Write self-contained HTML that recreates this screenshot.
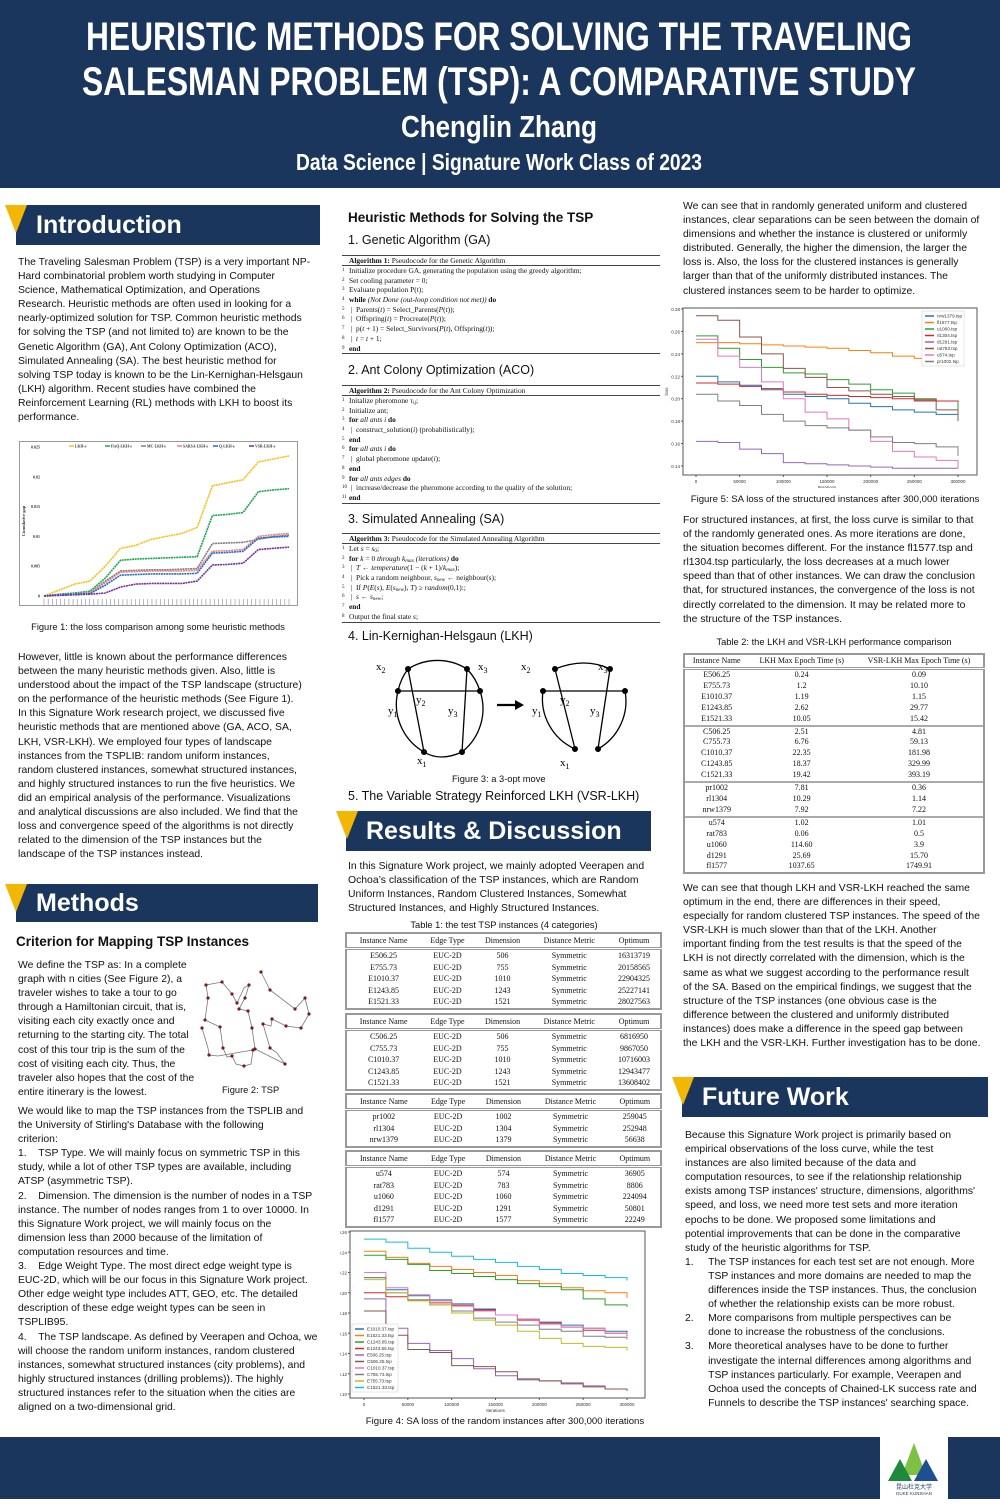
<!DOCTYPE html>
<html><head><meta charset="utf-8">
<style>
*{margin:0;padding:0;box-sizing:border-box}
body{width:1000px;height:1499px;position:relative;background:#fff;font-family:"Liberation Sans",sans-serif;color:#111;overflow:hidden}
.abs{position:absolute}
.txt{font-size:10.4px;line-height:14.1px;white-space:nowrap}
.bar{position:absolute;background:#1b365d;color:#fff;font-weight:bold;font-size:25px;padding-left:20px;line-height:40px}
.tri{position:absolute;width:0;height:0;border-left:11px solid transparent;border-right:11px solid transparent;border-top:28px solid #f2b705}
.h2{font-weight:bold;font-size:13.5px;white-space:nowrap}
.h3{font-size:12.5px;white-space:nowrap}
.cap{font-size:9.3px;white-space:nowrap;text-align:center}
.alg{position:absolute;left:342px;width:318px;font-family:"Liberation Serif",serif;font-size:7.4px;line-height:9.7px;border-top:1.5px solid #444;border-bottom:1.5px solid #444;white-space:nowrap}
.alg sub{line-height:0;font-size:70%;vertical-align:-1px}
.alg .t{border-bottom:1px solid #444;padding-left:7px;height:10px}
.alg div.l{padding-left:7px;position:relative;height:9.7px}
.alg div.l span.n{position:absolute;left:0;font-size:5px}
table{border-collapse:collapse;font-family:"Liberation Serif",serif;font-size:8px;position:absolute}
td,th{text-align:center;font-weight:normal;padding:0 3px;line-height:11.5px;white-space:nowrap}
table.t1{border:2px double #999}
table.t1 thead th{border-bottom:3px double #999;line-height:13px}
table.t2 td{line-height:10.9px}
table.t2 thead th{line-height:12px}
</style></head><body>

<svg class="abs" style="left:0;top:0" width="1000" height="188">
<rect width="1000" height="188" fill="#1b365d"/>
<g font-family="Liberation Sans Narrow, Liberation Sans, sans-serif" font-weight="bold" fill="#fff" text-anchor="middle">
<text x="499" y="50" font-size="40" textLength="826" lengthAdjust="spacingAndGlyphs">HEURISTIC METHODS FOR SOLVING THE TRAVELING</text>
<text x="499" y="95" font-size="40" textLength="834" lengthAdjust="spacingAndGlyphs">SALESMAN PROBLEM (TSP): A COMPARATIVE STUDY</text>
<text x="499" y="137" font-size="31" textLength="196" lengthAdjust="spacingAndGlyphs">Chenglin Zhang</text>
<text x="499" y="170" font-size="23" textLength="406" lengthAdjust="spacingAndGlyphs">Data Science | Signature Work Class of 2023</text>
</g></svg>

<!-- Introduction -->
<div class="bar" style="left:16px;top:205px;width:304px">Introduction</div>
<div class="tri" style="left:5px;top:205px"></div>
<div class="abs txt" style="left:18px;top:256px">The Traveling Salesman Problem (TSP) is a very important NP-<br>Hard combinatorial problem worth studying in Computer<br>Science, Mathematical Optimization, and Operations<br>Research. Heuristic methods are often used in looking for a<br>nearly-optimized solution for TSP. Common heuristic methods<br>for solving the TSP (and not limited to) are known to be the<br>Genetic Algorithm (GA), Ant Colony Optimization (ACO),<br>Simulated Annealing (SA). The best heuristic method for<br>solving TSP today is known to be the Lin-Kernighan-Helsgaun<br>(LKH) algorithm. Recent studies have combined the<br>Reinforcement Learning (RL) methods with LKH to boost its<br>performance.</div>

<svg id="fig1" class="abs" style="left:19px;top:441px" width="280" height="166"></svg>
<div class="abs cap" style="left:18px;top:622px;width:280px">Figure 1: the loss comparison among some heuristic methods</div>

<div class="abs txt" style="left:18px;top:651px">However, little is known about the performance differences<br>between the many heuristic methods given. Also, little is<br>understood about the impact of the TSP landscape (structure)<br>on the performance of the heuristic methods (See Figure 1).<br>In this Signature Work research project, we discussed five<br>heuristic methods that are mentioned above (GA, ACO, SA,<br>LKH, VSR-LKH). We employed four types of landscape<br>instances from the TSPLIB: random uniform instances,<br>random clustered instances, somewhat structured instances,<br>and highly structured instances to run the five heuristics. We<br>did an empirical analysis of the performance. Visualizations<br>and analytical discussions are also included. We find that the<br>loss and convergence speed of the algorithms is not directly<br>related to the dimension of the TSP instances but the<br>landscape of the TSP instances instead.</div>

<!-- Methods -->
<div class="bar" style="left:16px;top:884px;width:302px;line-height:38px">Methods</div>
<div class="tri" style="left:5px;top:884px"></div>
<div class="abs h2" style="left:16px;top:934px">Criterion for Mapping TSP Instances</div>
<div class="abs txt" style="left:18px;top:959px">We define the TSP as:  In a complete<br>graph with n cities (See Figure 2), a<br>traveler wishes to take a tour to go<br>through a Hamiltonian circuit, that is,<br>visiting each city exactly once and<br>returning to the starting city. The total<br>cost of this tour trip is the sum of the<br>cost of visiting each city. Thus, the<br>traveler also hopes that the cost of the<br>entire itinerary is the lowest.</div>
<svg class="abs" style="left:200px;top:968px" width="130" height="105">
<polyline fill="none" stroke="#777" stroke-width="0.8" points="61,4 70,22 95,41 105,30 109,46 101,60 86,58 72,51 71,58 63,56 70,80 77,85 85,96 75,91 55,81 52,60 48,43 39,41 45,30 49,17 44,20 37,35 32,26 22,14 6,17 8,30 5,52 20,59 23,80 27,89 32,88 36,96 44,98 51,96 53,82 18,88 9,87 8,80 5,70 2,60"/>
<g fill="#7a1a22"><circle cx="61" cy="4" r="1.6"/><circle cx="70" cy="22" r="1.6"/><circle cx="95" cy="41" r="1.6"/><circle cx="105" cy="30" r="1.6"/><circle cx="109" cy="46" r="1.6"/><circle cx="101" cy="60" r="1.6"/><circle cx="86" cy="58" r="1.6"/><circle cx="72" cy="51" r="1.6"/><circle cx="63" cy="56" r="1.6"/><circle cx="70" cy="80" r="1.6"/><circle cx="85" cy="96" r="1.6"/><circle cx="55" cy="81" r="1.6"/><circle cx="52" cy="60" r="1.6"/><circle cx="48" cy="43" r="1.6"/><circle cx="39" cy="41" r="1.6"/><circle cx="45" cy="30" r="1.6"/><circle cx="49" cy="17" r="1.6"/><circle cx="37" cy="35" r="1.6"/><circle cx="32" cy="26" r="1.6"/><circle cx="22" cy="14" r="1.6"/><circle cx="6" cy="17" r="1.6"/><circle cx="8" cy="30" r="1.6"/><circle cx="5" cy="52" r="1.6"/><circle cx="20" cy="59" r="1.6"/><circle cx="23" cy="80" r="1.6"/><circle cx="32" cy="88" r="1.6"/><circle cx="44" cy="98" r="1.6"/><circle cx="53" cy="82" r="1.6"/><circle cx="9" cy="87" r="1.6"/><circle cx="2" cy="60" r="1.6"/></g></svg>
<div class="abs cap" style="left:222px;top:1085px">Figure 2: TSP</div>
<div class="abs txt" style="left:18px;top:1105px">We would like to map the TSP instances from the TSPLIB and<br>the University of Stirling's Database with the following<br>criterion:<br>1.&nbsp;&nbsp;&nbsp;&nbsp;TSP Type. We will mainly focus on symmetric TSP in this<br>study, while a lot of other TSP types are available, including<br>ATSP (asymmetric TSP).<br>2.&nbsp;&nbsp;&nbsp;&nbsp;Dimension. The dimension is the number of nodes in a TSP<br>instance. The number of nodes ranges from 1 to over 10000. In<br>this Signature Work project, we will mainly focus on the<br>dimension less than 2000 because of the limitation of<br>computation resources and time.<br>3.&nbsp;&nbsp;&nbsp;&nbsp;Edge Weight Type. The most direct edge weight type is<br>EUC-2D, which will be our focus in this Signature Work project.<br>Other edge weight type includes ATT, GEO, etc. The detailed<br>description of these edge weight types can be seen in<br>TSPLIB95.<br>4.&nbsp;&nbsp;&nbsp;&nbsp;The TSP landscape. As defined by Veerapen and Ochoa, we<br>will choose the random uniform instances, random clustered<br>instances, somewhat structured instances (city problems), and<br>highly structured instances (drilling problems)). The highly<br>structured instances refer to the situation when the cities are<br>aligned on a two-dimensional grid.</div>

<!-- Middle column -->
<div class="abs h2" style="left:348px;top:210px">Heuristic Methods for Solving the TSP</div>
<div class="abs h3" style="left:348px;top:233px">1. Genetic Algorithm (GA)</div>
<div class="alg" style="top:255px">
<div class="t"><b>Algorithm 1:</b> Pseudocode for the Genetic Algorithm</div>
<div class="l"><span class="n">1</span>Initialize procedure GA, generating the population using the greedy algorithm;</div>
<div class="l"><span class="n">2</span>Set cooling parameter = 0;</div>
<div class="l"><span class="n">3</span>Evaluate population P(t);</div>
<div class="l"><span class="n">4</span><b>while</b> <i>(Not Done (out-loop condition not met))</i> <b>do</b></div>
<div class="l"><span class="n">5</span>&nbsp;|&nbsp;&nbsp;Parents(<i>t</i>) = Select_Parents(<i>P</i>(<i>t</i>));</div>
<div class="l"><span class="n">6</span>&nbsp;|&nbsp;&nbsp;Offspring(<i>t</i>) = Procreate(<i>P</i>(<i>t</i>));</div>
<div class="l"><span class="n">7</span>&nbsp;|&nbsp;&nbsp;p(<i>t</i> + 1) = Select_Survivors(<i>P</i>(<i>t</i>), Offspring(<i>t</i>));</div>
<div class="l"><span class="n">8</span>&nbsp;|&nbsp;&nbsp;<i>t</i> = <i>t</i> + 1;</div>
<div class="l"><span class="n">9</span><b>end</b></div></div>
<div class="abs h3" style="left:348px;top:363px">2. Ant Colony Optimization (ACO)</div>
<div class="alg" style="top:385px">
<div class="t"><b>Algorithm 2:</b> Pseudocode for the Ant Colony Optimization</div>
<div class="l"><span class="n">1</span>Initalize pheromone τ<sub>ij</sub>;</div>
<div class="l"><span class="n">2</span>Initialize ant;</div>
<div class="l"><span class="n">3</span><b>for</b> <i>all ants i</i> <b>do</b></div>
<div class="l"><span class="n">4</span>&nbsp;|&nbsp;&nbsp;construct_solution(<i>i</i>) (probabilistically);</div>
<div class="l"><span class="n">5</span><b>end</b></div>
<div class="l"><span class="n">6</span><b>for</b> <i>all ants i</i> <b>do</b></div>
<div class="l"><span class="n">7</span>&nbsp;|&nbsp;&nbsp;global pheromone update(<i>i</i>);</div>
<div class="l"><span class="n">8</span><b>end</b></div>
<div class="l"><span class="n">9</span><b>for</b> <i>all ants edges</i> <b>do</b></div>
<div class="l"><span class="n">10</span>&nbsp;|&nbsp;&nbsp;increase/decrease the pheromone according to the quality of the solution;</div>
<div class="l"><span class="n">11</span><b>end</b></div></div>
<div class="abs h3" style="left:348px;top:512px">3. Simulated Annealing (SA)</div>
<div class="alg" style="top:533px">
<div class="t"><b>Algorithm 3:</b> Pseudocode for the Simulated Annealing Algorithm</div>
<div class="l"><span class="n">1</span>Let <i>s</i> = <i>s</i><sub>0</sub>;</div>
<div class="l"><span class="n">2</span><b>for</b> <i>k</i> = 0 <i>through k<sub>max</sub> (iterations)</i> <b>do</b></div>
<div class="l"><span class="n">3</span>&nbsp;|&nbsp;&nbsp;<i>T</i> ← <i>temperature</i>(1 − (<i>k</i> + 1)/<i>k<sub>max</sub></i>);</div>
<div class="l"><span class="n">4</span>&nbsp;|&nbsp;&nbsp;Pick a random neighbour, <i>s<sub>new</sub></i> ← neighbour(s);</div>
<div class="l"><span class="n">5</span>&nbsp;|&nbsp;&nbsp;If <i>P</i>(<i>E</i>(<i>s</i>), <i>E</i>(<i>s<sub>new</sub></i>), <i>T</i>) ≥ <i>random</i>(0,1):;</div>
<div class="l"><span class="n">6</span>&nbsp;|&nbsp;&nbsp;<i>s</i> ← <i>s<sub>new</sub></i>;</div>
<div class="l"><span class="n">7</span><b>end</b></div>
<div class="l"><span class="n">8</span>Output the final state <i>s</i>;</div></div>
<div class="abs h3" style="left:348px;top:629px">4. Lin-Kernighan-Helsgaun (LKH)</div>
<svg class="abs" style="left:360px;top:652px" width="290" height="118">
<g fill="none" stroke="#000" stroke-width="1.3" font-family="Liberation Serif,serif">
<path d="M38,39 A55,55 0 0 1 48,17 A55,55 0 0 1 107,17 A55,55 0 0 1 120,39 A55,55 0 0 1 102,100 Q80,110 64,100 A55,55 0 0 1 38,39"/>
<line x1="38" y1="39" x2="120" y2="39"/><line x1="48" y1="17" x2="64" y2="100"/><line x1="107" y1="17" x2="102" y2="100"/>
<path d="M183,39 A55,55 0 0 0 215,97"/><path d="M195,17 Q225,5 250,17"/><path d="M265,39 A55,55 0 0 1 238,97"/>
<line x1="183" y1="39" x2="265" y2="39"/><line x1="195" y1="17" x2="215" y2="97"/><line x1="250" y1="17" x2="238" y2="97"/>
<line x1="137" y1="53" x2="157" y2="53" stroke-width="2.2"/></g>
<polygon points="155,48 164,53 155,58" fill="#000"/>
<g fill="#000"><circle cx="38" cy="39" r="3"/><circle cx="120" cy="39" r="3"/><circle cx="48" cy="17" r="3"/><circle cx="107" cy="17" r="3"/><circle cx="64" cy="100" r="3"/><circle cx="102" cy="100" r="3"/><circle cx="183" cy="39" r="3"/><circle cx="265" cy="39" r="3"/><circle cx="195" cy="17" r="3"/><circle cx="250" cy="17" r="3"/><circle cx="215" cy="97" r="3"/><circle cx="238" cy="97" r="3"/></g>
<g font-family="Liberation Serif,serif" font-size="11" fill="#000"><text x="16" y="18">x<tspan font-size="8" dy="3">2</tspan></text><text x="118" y="18">x<tspan font-size="8" dy="3">3</tspan></text><text x="56" y="51">y<tspan font-size="8" dy="3">2</tspan></text><text x="28" y="62">y<tspan font-size="8" dy="3">1</tspan></text><text x="88" y="62">y<tspan font-size="8" dy="3">3</tspan></text><text x="57" y="112">x<tspan font-size="8" dy="3">1</tspan></text>
<text x="161" y="18">x<tspan font-size="8" dy="3">2</tspan></text><text x="238" y="18">x<tspan font-size="8" dy="3">3</tspan></text><text x="200" y="51">y<tspan font-size="8" dy="3">2</tspan></text><text x="172" y="62">y<tspan font-size="8" dy="3">1</tspan></text><text x="230" y="62">y<tspan font-size="8" dy="3">3</tspan></text><text x="200" y="114">x<tspan font-size="8" dy="3">1</tspan></text></g></svg>
<div class="abs cap" style="left:452px;top:774px">Figure 3: a 3-opt move</div>
<div class="abs h3" style="left:348px;top:789px">5. The Variable Strategy Reinforced LKH (VSR-LKH)</div>

<div class="bar" style="left:346px;top:811px;width:305px;font-size:25px;line-height:40px">Results &amp; Discussion</div>
<div class="tri" style="left:336px;top:811px"></div>
<div class="abs txt" style="left:348px;top:860px">In this Signature Work project, we mainly adopted Veerapen and<br>Ochoa’s classification of the TSP instances, which are Random<br>Uniform Instances, Random Clustered Instances, Somewhat<br>Structured Instances, and Highly Structured Instances.</div>
<div class="abs cap" style="left:345px;top:920px;width:318px">Table 1: the test TSP instances (4 categories)</div>

<svg id="fig4" class="abs" style="left:340px;top:1225px" width="330" height="190"></svg>
<div class="abs cap" style="left:340px;top:1416px;width:330px;font-size:9.6px">Figure 4: SA loss of the random instances after 300,000 iterations</div>

<!-- Right column -->
<div class="abs txt" style="left:683px;top:200px">We can see that in randomly generated uniform and clustered<br>instances, clear separations can be seen between the domain of<br>dimensions and whether the instance is clustered or uniformly<br>distributed. Generally, the higher the dimension, the larger the<br>loss is. Also, the loss for the clustered instances is generally<br>larger than that of the uniformly distributed instances. The<br>clustered instances seem to be harder to optimize.</div>
<svg id="fig5" class="abs" style="left:660px;top:303px" width="330" height="185"></svg>
<div class="abs cap" style="left:670px;top:494px;width:330px;font-size:9.6px">Figure 5: SA loss of the structured instances after 300,000 iterations</div>
<div class="abs txt" style="left:683px;top:514px">For structured instances, at first, the loss curve is similar to that<br>of the randomly generated ones. As more iterations are done,<br>the situation becomes different. For the instance fl1577.tsp and<br>rl1304.tsp particularly, the loss decreases at a much lower<br>speed than that of other instances. We can draw the conclusion<br>that, for structured instances, the convergence of the loss is not<br>directly correlated to the dimension. It may be related more to<br>the structure of the TSP instances.</div>
<div class="abs cap" style="left:683px;top:637px;width:302px">Table 2: the LKH and VSR-LKH performance comparison</div>
<div class="abs txt" style="left:683px;top:882px">We can see that though LKH and VSR-LKH reached the same<br>optimum in the end, there are differences in their speed,<br>especially for random clustered TSP instances. The speed of the<br>VSR-LKH is much slower than that of the LKH. Another<br>important finding from the test results is that the speed of the<br>LKH is not directly correlated with the dimension, which is the<br>same as what we suggest according to the performance result<br>of the SA. Based on the empirical findings, we suggest that the<br>structure of the TSP instances (one obvious case is the<br>difference between the clustered and uniformly distributed<br>instances) does make a difference in the speed gap between<br>the LKH and the VSR-LKH. Further investigation has to be done.</div>

<div class="bar" style="left:682px;top:1077px;width:306px">Future Work</div>
<div class="tri" style="left:672px;top:1077px"></div>
<div class="abs txt" style="left:685px;top:1129px">Because this Signature Work project is primarily based on<br>empirical observations of the loss curve, while the test<br>instances are also limited because of the data and<br>computation resources, to see if the relationship relationship<br>exists among TSP instances' structure, dimensions, algorithms'<br>speed, and loss, we need more test sets and more iteration<br>epochs to be done. We proposed some limitations and<br>potential improvements that can be done in the comparative<br>study of the heuristic algorithms for TSP.<br>1.&nbsp;&nbsp;&nbsp;&nbsp;&nbsp;The TSP instances for each test set are not enough. More<br>&nbsp;&nbsp;&nbsp;&nbsp;&nbsp;&nbsp;&nbsp;&nbsp;TSP instances and more domains are needed to map the<br>&nbsp;&nbsp;&nbsp;&nbsp;&nbsp;&nbsp;&nbsp;&nbsp;differences inside the TSP instances. Thus, the conclusion<br>&nbsp;&nbsp;&nbsp;&nbsp;&nbsp;&nbsp;&nbsp;&nbsp;of whether the relationship exists can be more robust.<br>2.&nbsp;&nbsp;&nbsp;&nbsp;&nbsp;More comparisons from multiple perspectives can be<br>&nbsp;&nbsp;&nbsp;&nbsp;&nbsp;&nbsp;&nbsp;&nbsp;done to increase the robustness of the conclusions.<br>3.&nbsp;&nbsp;&nbsp;&nbsp;&nbsp;More theoretical analyses have to be done to further<br>&nbsp;&nbsp;&nbsp;&nbsp;&nbsp;&nbsp;&nbsp;&nbsp;investigate the internal differences among algorithms and<br>&nbsp;&nbsp;&nbsp;&nbsp;&nbsp;&nbsp;&nbsp;&nbsp;TSP instances particularly. For example, Veerapen and<br>&nbsp;&nbsp;&nbsp;&nbsp;&nbsp;&nbsp;&nbsp;&nbsp;Ochoa used the concepts of Chained-LK success rate and<br>&nbsp;&nbsp;&nbsp;&nbsp;&nbsp;&nbsp;&nbsp;&nbsp;Funnels to describe the TSP instances' searching space.</div>

<!-- Footer -->
<div class="abs" style="left:0;top:1437px;width:1000px;height:62px;background:#1b365d"></div>
<div class="abs" style="left:880px;top:1437px;width:68px;height:62px;background:#fff">
<svg width="68" height="62"><polygon points="34,6 22,38 46,38" fill="#7cc142"/><polygon points="20,22 8,44 32,44" fill="#1f8a3c"/><polygon points="46,22 34,44 58,44" fill="#1d4f91"/><text x="34" y="52" font-size="6" text-anchor="middle" fill="#1b365d" font-family="Noto Sans CJK SC,sans-serif">昆山杜克大学</text><text x="34" y="58" font-size="4.5" text-anchor="middle" fill="#1b365d" font-family="Liberation Sans,sans-serif">DUKE KUNSHAN</text></svg></div>

<script>
// ---------- Table data ----------
const t1Groups = [
 [["E506.25","506","16313719"],["E755.73","755","20158565"],["E1010.37","1010","22904325"],["E1243.85","1243","25227141"],["E1521.33","1521","28027563"]],
 [["C506.25","506","6816950"],["C755.73","755","9867050"],["C1010.37","1010","10716003"],["C1243.85","1243","12943477"],["C1521.33","1521","13608402"]],
 [["pr1002","1002","259045"],["rl1304","1304","252948"],["nrw1379","1379","56638"]],
 [["u574","574","36905"],["rat783","783","8806"],["u1060","1060","224094"],["d1291","1291","50801"],["fl1577","1577","22249"]]
];
const t1Tops=[932,1013,1093,1150];
t1Groups.forEach(function(g,gi){
  const tb=document.createElement('table');
  
  
  tb.className='t1';
  tb.style.left='345px';tb.style.top=t1Tops[gi]+'px';tb.style.width='317px';
  let h='<thead><tr><th>Instance Name</th><th>Edge Type</th><th>Dimension</th><th>Distance Metric</th><th>Optimum</th></tr></thead><tbody>';
  g.forEach(function(r){h+='<tr><td>'+r[0]+'</td><td>EUC-2D</td><td>'+r[1]+'</td><td>Symmetric</td><td>'+r[2]+'</td></tr>';});
  tb.innerHTML=h+'</tbody>';
  document.body.appendChild(tb);
});
const t2Names=["E506.25","E755.73","E1010.37","E1243.85","E1521.33","C506.25","C755.73","C1010.37","C1243.85","C1521.33","pr1002","rl1304","nrw1379","u574","rat783","u1060","d1291","fl1577"];
const t2Lkh=["0.24","1.2","1.19","2.62","10.05","2.51","6.76","22.35","18.37","19.42","7.81","10.29","7.92","1.02","0.06","114.60","25.69","1037.65"];
const t2Vsr=["0.09","10.10","1.15","29.77","15.42","4.81","59.13","181.98","329.99","393.19","0.36","1.14","7.22","1.01","0.5","3.9","15.70","1749.91"];
(function(){
  const tb=document.createElement('table');
  
  
  tb.className='t1 t2';
  tb.style.left='683px';tb.style.top='653px';tb.style.width='302px';
  let h='<thead><tr><th>Instance Name</th><th>LKH Max Epoch Time (s)</th><th>VSR-LKH Max Epoch Time (s)</th></tr></thead><tbody>';
  t2Names.forEach(function(n,i){
    const sep=(i===5||i===10||i===13)?' style="border-top:2px solid #aaa"':'';
    h+='<tr'+sep+'><td>'+n+'</td><td>'+t2Lkh[i]+'</td><td>'+t2Vsr[i]+'</td></tr>';});
  tb.innerHTML=h+'</tbody>';
  document.body.appendChild(tb);
})();

// ---------- Figure 5 data ----------
const fig5Iters=[0,25000,50000,75000,100000,125000,150000,175000,200000,225000,250000,275000,300000];
const fig5Names=["nrw1379.tsp","fl1577.tsp","u1060.tsp","rl1304.tsp","d1291.tsp","rat783.tsp","u574.tsp","pr1002.tsp"];
const fig5_nrw1379=[0.220,0.215,0.212,0.208,0.204,0.202,0.200,0.196,0.193,0.190,0.188,0.186,0.182];
const fig5_fl1577=[0.250,0.250,0.249,0.248,0.247,0.246,0.245,0.243,0.241,0.238,0.236,0.233,0.232];
const fig5_u1060=[0.256,0.245,0.235,0.228,0.223,0.222,0.217,0.213,0.208,0.205,0.200,0.198,0.188];
const fig5_rl1304=[0.214,0.213,0.211,0.209,0.206,0.204,0.203,0.202,0.201,0.200,0.199,0.198,0.197];
const fig5_d1291=[0.162,0.161,0.155,0.151,0.143,0.142,0.141,0.140,0.139,0.138,0.138,0.138,0.138];
const fig5_rat783=[0.274,0.270,0.255,0.240,0.227,0.219,0.210,0.207,0.204,0.202,0.198,0.190,0.180];
const fig5_u574=[0.253,0.238,0.228,0.215,0.200,0.188,0.182,0.172,0.162,0.153,0.148,0.145,0.138];
const fig5_pr1002=[0.204,0.198,0.194,0.186,0.180,0.176,0.174,0.172,0.166,0.161,0.160,0.157,0.149];
const fig5YTicks=[0.14,0.16,0.18,0.20,0.22,0.24,0.26,0.28];
const xTicks=[0,50000,100000,150000,200000,250000,300000];

// ---------- Figure 4 data ----------
const fig4Names=["E1010.37.tsp","E1521.33.tsp","C1243.85.tsp","E1243.85.tsp","E506.25.tsp","C506.25.tsp","C1010.37.tsp","C755.73.tsp","E755.73.tsp","C1521.33.tsp"];
const fig4_E1010=[0.215,0.203,0.197,0.193,0.189,0.184,0.178,0.174,0.171,0.168,0.165,0.162,0.160];
const fig4_E1521=[0.241,0.235,0.229,0.226,0.223,0.220,0.217,0.212,0.209,0.205,0.202,0.200,0.195];
const fig4_C1243=[0.237,0.233,0.228,0.222,0.219,0.216,0.213,0.209,0.206,0.203,0.194,0.188,0.186];
const fig4_E1243=[0.200,0.196,0.193,0.190,0.187,0.183,0.178,0.173,0.170,0.166,0.163,0.160,0.157];
const fig4_E506=[0.194,0.165,0.150,0.143,0.135,0.125,0.118,0.114,0.113,0.111,0.108,0.105,0.103];
const fig4_C506=[0.182,0.158,0.144,0.141,0.128,0.127,0.122,0.115,0.113,0.110,0.107,0.105,0.103];
const fig4_C1010=[0.220,0.205,0.198,0.192,0.188,0.182,0.178,0.174,0.169,0.166,0.165,0.160,0.158];
const fig4_C755=[0.215,0.200,0.193,0.188,0.182,0.175,0.171,0.168,0.164,0.162,0.157,0.156,0.154];
const fig4_E755=[0.213,0.200,0.192,0.188,0.180,0.173,0.168,0.162,0.155,0.150,0.147,0.146,0.143];
const fig4_C1521=[0.253,0.250,0.244,0.240,0.236,0.233,0.230,0.226,0.223,0.219,0.217,0.215,0.212];
const fig4YTicks=[0.10,0.12,0.14,0.16,0.18,0.20,0.22,0.24,0.26];

// ---------- Figure 1 data ----------
const fig1Names=["LKH-e","FixQ-LKH-e","MC-LKH-e","SARSA-LKH-e","Q-LKH-e","VSR-LKH-e"];
const fig1_LKH=[0,0.001,0.002,0.0025,0.005,0.008,0.0085,0.0095,0.0100,0.0105,0.0115,0.0185,0.019,0.0195,0.0225,0.023,0.0235];
const fig1_FixQ=[0,0.0003,0.0005,0.0008,0.003,0.006,0.0062,0.0063,0.0064,0.0065,0.0066,0.0135,0.0137,0.0140,0.0175,0.0178,0.018];
const fig1_MC=[0,0.0002,0.0003,0.0005,0.0025,0.0042,0.0043,0.0044,0.0044,0.0045,0.0046,0.0088,0.0089,0.0090,0.0095,0.010,0.0102];
const fig1_SARSA=[0,0.0002,0.0003,0.0005,0.0022,0.0040,0.0041,0.0042,0.0042,0.0042,0.0043,0.0075,0.0076,0.0078,0.0100,0.0103,0.0105];
const fig1_Q=[0,0.0002,0.0003,0.0004,0.0018,0.0035,0.0036,0.0037,0.0037,0.0037,0.0038,0.0072,0.0073,0.0075,0.0097,0.0099,0.0100];
const fig1_VSR=[0,0.0001,0.0002,0.0003,0.0005,0.0015,0.0020,0.0021,0.0021,0.0021,0.0025,0.0052,0.0053,0.0055,0.0078,0.0080,0.0082];
const fig1YTicks=[0,0.005,0.01,0.015,0.02,0.025];

const NS='http://www.w3.org/2000/svg';
function mk(parent,tag,attrs){const e=document.createElementNS(NS,tag);for(const k in attrs)e.setAttribute(k,attrs[k]);parent.appendChild(e);return e;}
const tabColors=["#1f77b4","#ff7f0e","#2ca02c","#d62728","#9467bd","#8c564b","#e377c2","#7f7f7f","#bcbd22","#17becf"];

function lossChart(svgId,series,names,yTicks,ymin,ymax,frame,x0,x1,y0,y1,legend){
  const svg=document.getElementById(svgId);
  const xs=v=>x0+(v-0)/300000*(x1-x0);
  const ys=v=>y0+(v-ymin)/(ymax-ymin)*(y1-y0);
  mk(svg,'rect',{x:frame[0],y:frame[1],width:frame[2],height:frame[3],fill:'#fff',stroke:'#555','stroke-width':1});
  yTicks.forEach(function(t){
    const y=ys(t);
    mk(svg,'line',{x1:frame[0]-2,x2:frame[0],y1:y,y2:y,stroke:'#555'});
    const tx=mk(svg,'text',{x:frame[0]-3,y:y+2,'font-size':4.5,'text-anchor':'end',fill:'#333'});
    
    
    tx.textContent=t.toFixed(2);
  });
  xTicks.forEach(function(t){
    const x=xs(t);
    mk(svg,'line',{x1:x,x2:x,y1:frame[1]+frame[3],y2:frame[1]+frame[3]+2,stroke:'#555'});
    const tx=mk(svg,'text',{x:x,y:frame[1]+frame[3]+8,'font-size':4.5,'text-anchor':'middle',fill:'#333'});
    
    
    tx.textContent=t;
  });
  const xl=mk(svg,'text',{x:(x0+x1)/2,y:frame[1]+frame[3]+14,'font-size':4.5,'text-anchor':'middle',fill:'#333'});
  
  
  xl.textContent='Iterations';
  const yl=mk(svg,'text',{x:0,y:0,'font-size':4.5,'text-anchor':'middle',fill:'#333',transform:'translate('+(frame[0]-15)+','+(frame[1]+frame[3]/2)+') rotate(-90)'});
  
  
  yl.textContent='loss';
  series.forEach(function(s,i){
    let d='M'+xs(fig5Iters[0])+','+ys(s[0]);
    for(let k=1;k<s.length;k++){
      const xm=xs(fig5Iters[k]);
      d+=' H'+xm+' V'+ys(s[k]);
    }
    const p=mk(svg,'path',{d:d,fill:'none',stroke:tabColors[i],'stroke-width':1});
    
    
  });
  const lg=mk(svg,'g',{});
  
  
  mk(lg,'rect',{x:legend[0],y:legend[1],width:legend[2],height:names.length*6.5+3,fill:'#fff',stroke:'#ccc','stroke-width':0.5});
  names.forEach(function(n,i){
    const y=legend[1]+5+i*6.5;
    mk(lg,'line',{x1:legend[0]+3,x2:legend[0]+12,y1:y,y2:y,stroke:tabColors[i],'stroke-width':1.5});
    const t=mk(lg,'text',{x:legend[0]+15,y:y+1.6,'font-size':4.6,fill:'#333'});
    
    
    t.textContent=n;
  });
}
lossChart('fig5',[fig5_nrw1379,fig5_fl1577,fig5_u1060,fig5_rl1304,fig5_d1291,fig5_rat783,fig5_u574,fig5_pr1002],fig5Names,fig5YTicks,0.14,0.28,[23,5,294,167],36,298,163,6,[262,8,42]);
lossChart('fig4',[fig4_E1010,fig4_E1521,fig4_C1243,fig4_E1243,fig4_E506,fig4_C506,fig4_C1010,fig4_C755,fig4_E755,fig4_C1521],fig4Names,fig4YTicks,0.10,0.26,[10,6,295,167],24,287,169,7,[12,99,46]);

// Figure 1
(function(){
  const svg=document.getElementById('fig1');
  const colors=["#f5c21b","#1aa84f","#7f7f7f","#f08080","#1f6fcf","#7030a0"];
  mk(svg,'rect',{x:0.5,y:0.5,width:278,height:164,fill:'#fff',stroke:'#999'});
  const x0=25,x1=270,y0=155,y1=6;
  const ys=v=>y0+v/0.025*(y1-y0);
  const n=fig1_LKH.length;
  const xs=i=>x0+i/(n-1)*(x1-x0);
  fig1YTicks.forEach(function(t){
    const tx=mk(svg,'text',{x:x0-4,y:ys(t)+1.5,'font-size':4,'text-anchor':'end','font-weight':'bold',fill:'#333','font-family':'Liberation Serif,serif'});
    
    
    tx.textContent=String(t);
  });
  const yl=mk(svg,'text',{x:0,y:0,'font-size':4.5,'text-anchor':'middle','font-weight':'bold',fill:'#333',transform:'translate(6,80) rotate(-90)','font-family':'Liberation Serif,serif'});
  
  
  yl.textContent='Cumulative gap';
  for(let i=0;i<60;i++){mk(svg,'line',{x1:x0+i*(x1-x0)/59,x2:x0+i*(x1-x0)/59,y1:158,y2:164,stroke:'#888','stroke-width':0.6});}
  [fig1_LKH,fig1_FixQ,fig1_MC,fig1_SARSA,fig1_Q,fig1_VSR].forEach(function(s,si){
    let d='';
    s.forEach(function(v,i){d+=(i?' L':'M')+xs(i)+','+ys(v);});
    const p=mk(svg,'path',{d:d,fill:'none',stroke:colors[si],'stroke-width':1.6,'stroke-dasharray':'2 0.6'});
    
    
  });
  const lg=mk(svg,'g',{});
  
  
  fig1Names.forEach(function(nm,i){
    const lx=50+i*36;
    mk(lg,'line',{x1:lx,x2:lx+5,y1:5,y2:5,stroke:colors[i],'stroke-width':1.5});
    const t=mk(lg,'text',{x:lx+6,y:6.5,'font-size':3.8,'font-weight':'bold',fill:'#333','font-family':'Liberation Serif,serif'});
    
    
    t.textContent=nm;
  });
})();
</script>
</body></html>
